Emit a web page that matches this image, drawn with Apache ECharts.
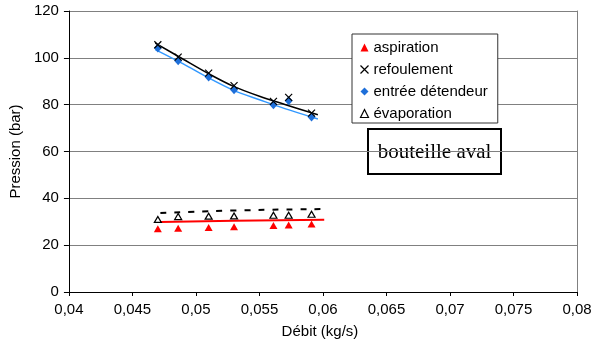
<!DOCTYPE html>
<html>
<head>
    <meta charset="utf-8">
    <title>Pression / Débit</title>
    <script src="https://cdn.jsdelivr.net/npm/echarts@6/dist/echarts.min.js"></script>
    <style>
        html, body { margin: 0; padding: 0; background: #fff; }
        #main { width: 602px; height: 347px; }
    </style>
</head>
<body>
    <div id="main"></div>
    <script>
        const debit = [0.0470, 0.0486, 0.0510, 0.0530, 0.0561, 0.0573, 0.0591];
        const aspiration = [27.0, 27.2, 27.5, 27.9, 28.4, 28.6, 29.0];
        const refoulement = [105.6, 100.3, 93.5, 88.1, 81.4, 83.1, 76.4];
        const entreeDetendeur = [104.2, 98.8, 91.8, 86.4, 80.0, 81.7, 74.7];
        const evaporation = [31.0, 32.2, 32.4, 32.5, 32.8, 32.8, 33.2];

        // courbes de tendance
        const trendX = [0.0468, 0.0490, 0.0510, 0.0530, 0.0550, 0.0570, 0.0596];
        const trendRefY = [106.3, 99.4, 93.2, 87.7, 83.6, 80.1, 75.7];
        const trendDetY = [103.5, 97.4, 91.4, 86.0, 82.1, 78.3, 73.9];
        const trendAspX = [0.0472, 0.0530, 0.0601];
        const trendAspY = [29.9, 30.4, 30.9];
        const trendEvapX = [0.0472, 0.0530, 0.0598];
        const trendEvapY = [33.7, 34.8, 35.4];

        const xTicks = { min: 0.04, max: 0.08, interval: 0.005 };
        const yTicks = { min: 0, max: 120, interval: 20 };

        const crossPath = 'path://M0,0L10,10M10,0L0,10';
        const font = 'Liberation Sans, Arial, sans-serif';

        const zip = (xs, ys) => xs.map((x, i) => [x, ys[i]]);

        const chart = echarts.init(document.getElementById('main'));

        const option = {
            animation: false,
            grid: { left: 63, right: 25, top: 11, bottom: 55 },
            legend: {
                orient: 'vertical',
                left: 352,
                top: 34,
                padding: [6, 10, 2, 6],
                itemGap: 7,
                itemWidth: 8,
                itemHeight: 8,
                backgroundColor: '#fff',
                borderColor: '#333',
                borderWidth: 1,
                textStyle: { fontFamily: font, fontSize: 15, color: '#000' },
                data: [
                    { name: 'aspiration', icon: 'triangle', itemStyle: { color: '#ff0000' } },
                    { name: 'refoulement', icon: crossPath, itemStyle: { color: 'none', borderColor: '#000', borderWidth: 1.2 } },
                    { name: 'entrée détendeur', icon: 'diamond', itemStyle: { color: '#1e6fd9' } },
                    { name: 'évaporation', icon: 'triangle', itemStyle: { color: '#fff', borderColor: '#000', borderWidth: 1.2 } }
                ]
            },
            xAxis: [{
                type: 'value',
                min: xTicks.min,
                max: xTicks.max,
                interval: xTicks.interval,
                name: 'Débit (kg/s)',
                nameLocation: 'middle',
                nameGap: 32,
                nameTextStyle: { fontFamily: font, fontSize: 15, color: '#000', padding: [0, 6, 0, 0] },
                axisLine: { lineStyle: { color: '#000', width: 1 } },
                axisTick: { show: true, inside: false, length: 4, lineStyle: { color: '#000' } },
                axisLabel: {
                    margin: 10,
                    fontFamily: font,
                    fontSize: 15,
                    color: '#000',
                    formatter: v => String(+v.toFixed(3)).replace('.', ',')
                },
                splitLine: { show: false }
            }, {
                type: 'value',
                position: 'top',
                min: xTicks.min,
                max: xTicks.max,
                axisLine: { show: true, lineStyle: { color: '#000', width: 1 } },
                axisTick: { show: false },
                axisLabel: { show: false },
                splitLine: { show: false }
            }],
            yAxis: [{
                type: 'value',
                min: yTicks.min,
                max: yTicks.max,
                interval: yTicks.interval,
                name: 'Pression (bar)',
                nameLocation: 'middle',
                nameGap: 37,
                nameTextStyle: { fontFamily: font, fontSize: 15, color: '#000' },
                axisLine: { show: true, lineStyle: { color: '#000', width: 1 } },
                axisTick: { show: true, inside: false, length: 5, lineStyle: { color: '#000' } },
                axisLabel: { margin: 10, fontFamily: font, fontSize: 15, color: '#000' },
                splitLine: { show: true, lineStyle: { color: '#808080', width: 1 } }
            }, {
                type: 'value',
                position: 'right',
                min: yTicks.min,
                max: yTicks.max,
                axisLine: { show: true, lineStyle: { color: '#808080', width: 1 } },
                axisTick: { show: false },
                axisLabel: { show: false },
                splitLine: { show: false }
            }],
            series: [
                // tendances
                {
                    name: 'tendance refoulement', type: 'line', smooth: 0.3, showSymbol: false, silent: true,
                    data: zip(trendX, trendRefY),
                    lineStyle: { color: '#000', width: 1.5 }, z: 3
                },
                {
                    name: 'tendance détendeur', type: 'line', smooth: 0.3, showSymbol: false, silent: true,
                    data: zip(trendX, trendDetY),
                    lineStyle: { color: '#3399ff', width: 1.5 }, z: 3
                },
                {
                    name: 'tendance aspiration', type: 'line', smooth: 0.5, showSymbol: false, silent: true,
                    data: zip(trendAspX, trendAspY),
                    lineStyle: { color: '#ff0000', width: 2 }, z: 3
                },
                {
                    name: 'tendance évaporation', type: 'line', smooth: 0.5, showSymbol: false, silent: true,
                    data: zip(trendEvapX, trendEvapY),
                    lineStyle: { color: '#000', width: 2, type: [6, 8] }, z: 3
                },
                // points de mesure
                {
                    name: 'aspiration', type: 'scatter', symbol: 'triangle', symbolSize: [8, 7],
                    data: zip(debit, aspiration),
                    itemStyle: { color: '#ff0000', opacity: 1 }, z: 4
                },
                {
                    name: 'évaporation', type: 'scatter', symbol: 'triangle', symbolSize: [7, 6],
                    data: zip(debit, evaporation),
                    itemStyle: { color: '#fff', borderColor: '#000', borderWidth: 1.2, opacity: 1 }, z: 4
                },
                {
                    name: 'entrée détendeur', type: 'scatter', symbol: 'diamond', symbolSize: [8, 9],
                    data: zip(debit, entreeDetendeur),
                    itemStyle: { color: '#1e6fd9', opacity: 1 }, z: 4
                },
                {
                    name: 'refoulement', type: 'scatter', symbol: crossPath, symbolSize: 7,
                    data: zip(debit, refoulement),
                    itemStyle: { color: 'none', borderColor: '#000', borderWidth: 1.2, opacity: 1 }, z: 5
                }
            ],
            graphic: [{
                type: 'group',
                left: 367,
                top: 128,
                z: 100,
                children: [{
                    type: 'rect',
                    shape: { x: 0, y: 0, width: 133, height: 45 },
                    style: { fill: '#fff', stroke: '#000', lineWidth: 2 }
                }, {
                    type: 'text',
                    x: 66.5,
                    y: 23,
                    style: {
                        text: 'bouteille aval',
                        fontFamily: 'Liberation Serif, Times New Roman, serif',
                        fontSize: 21,
                        fill: '#000',
                        align: 'center',
                        verticalAlign: 'middle'
                    }
                }]
            }]
        };

        chart.setOption(option);
    </script>
</body>
</html>
